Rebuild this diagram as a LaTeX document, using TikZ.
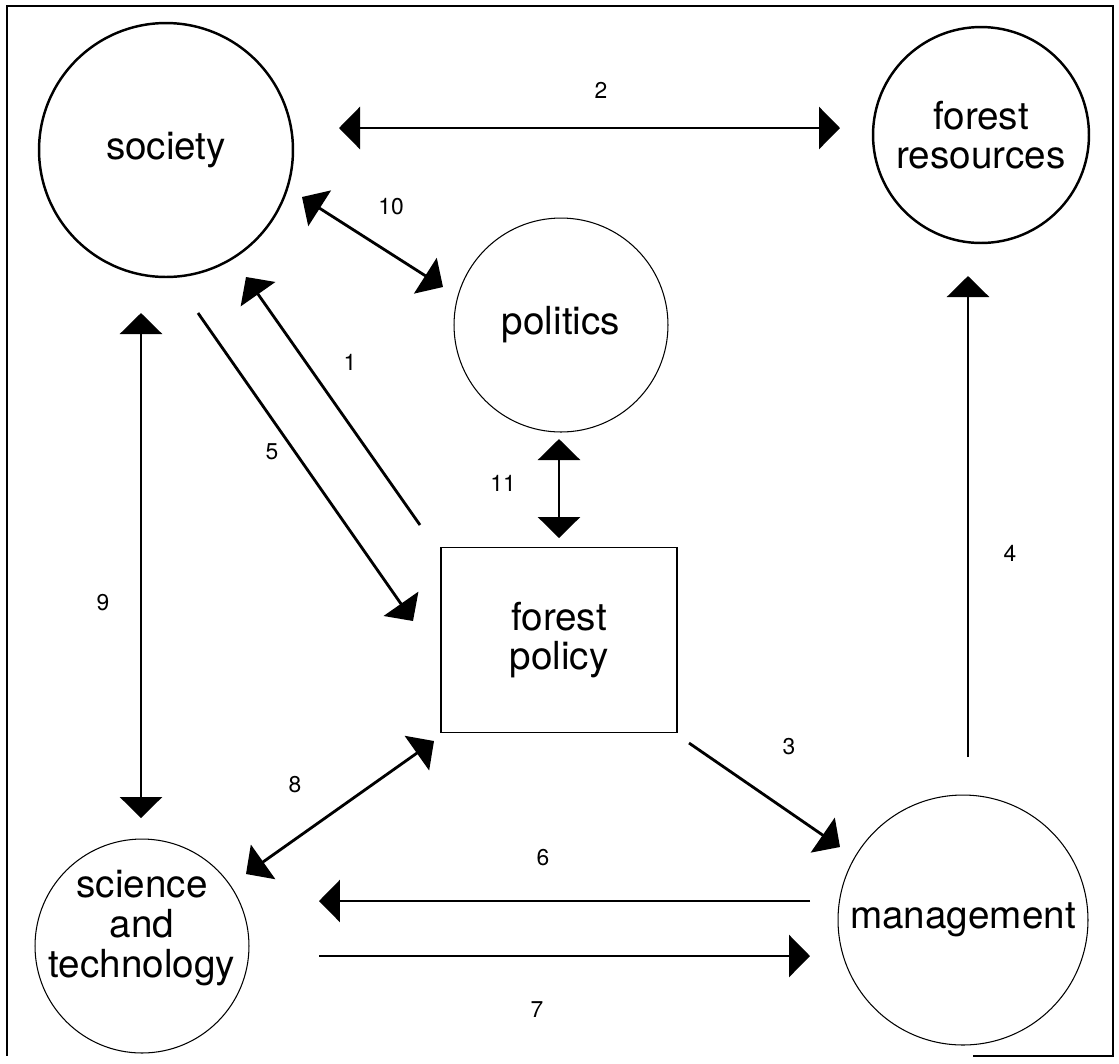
\documentclass[tikz,border=0pt]{standalone}
\usepackage{fontspec}
\setmainfont{TeX Gyre Heros}
\usetikzlibrary{arrows.meta}

\tikzset{
  thickcirc/.style={circle, draw, line width=1.4pt, inner sep=0pt, align=center, font=\fontsize{22}{22.5}\selectfont},
  thincirc/.style={circle, draw, line width=0.6pt, inner sep=0pt, align=center, font=\fontsize{22}{22.5}\selectfont},
  policybox/.style={rectangle, draw, line width=0.7pt, minimum width=4.72cm, minimum height=3.7cm, align=center, font=\fontsize{22}{22.5}\selectfont},
  nodetext/.style={align=center, inner sep=0pt, font=\fontsize{22}{22.5}\selectfont},
  oneway/.style={line width=1.6pt, -{Triangle[length=0.42cm, width=0.84cm]}},
  twoway/.style={line width=1.6pt, {Triangle[length=0.42cm, width=0.84cm]}-{Triangle[length=0.42cm, width=0.84cm]}},
  num/.style={inner sep=0pt, font=\fontsize{13}{13}\selectfont}
}

\begin{document}
\begin{tikzpicture}[x=0.02cm, y=-0.02cm]
  \useasboundingbox (0,0) rectangle (1119,1063);
  \draw[line width=0.6pt] (973,1056) -- (1113,1056) -- (1113,6) -- (7,6) -- (7,1056);

  % Knoten
  \node[thickcirc, minimum size=5.08cm] (society) at (166,150) {society};
  \node[thickcirc, minimum size=4.32cm] (resources) at (981,135) {forest\\resources};
  \node[thincirc, minimum size=4.28cm] (politics) at (561,325) {politics};
  \node[policybox] (policy) at (559,640) {forest\\policy};
  \node[thincirc, minimum size=4.28cm] (science) at (142,946) {};
  \node[nodetext] (sciencetext) at (142,928) {science\\and\\technology};
  \node[thincirc, minimum size=5.0cm] (management) at (963,920) {management};

  % Pfeilenden
  \coordinate (a2l) at (339,128);  \coordinate (a2r) at (840,128);
  \coordinate (a10s) at (302,197); \coordinate (a10p) at (443,287);
  \coordinate (a1b) at (420,525);  \coordinate (a1t) at (246,277);
  \coordinate (a5t) at (198,313);  \coordinate (a5b) at (413,621);
  \coordinate (a9t) at (141,313);  \coordinate (a9b) at (141,818);
  \coordinate (a11t) at (559,439); \coordinate (a11b) at (559,538);
  \coordinate (a8t) at (434,741);  \coordinate (a8b) at (246,874);
  \coordinate (a3t) at (689,743);  \coordinate (a3b) at (840,847);
  \coordinate (a4b) at (968,757);  \coordinate (a4t) at (968,276);
  \coordinate (a6r) at (810,901);  \coordinate (a6l) at (319,901);
  \coordinate (a7l) at (319,956);  \coordinate (a7r) at (810,956);

  % Pfeile
  \draw[twoway] (a2l) -- (a2r);
  \draw[twoway] (a10s) -- (a10p);
  \draw[oneway] (a1b) -- (a1t);
  \draw[oneway] (a5t) -- (a5b);
  \draw[twoway] (a9t) -- (a9b);
  \draw[twoway] (a11t) -- (a11b);
  \draw[twoway] (a8t) -- (a8b);
  \draw[oneway] (a3t) -- (a3b);
  \draw[oneway] (a4b) -- (a4t);
  \draw[oneway] (a6r) -- (a6l);
  \draw[oneway] (a7l) -- (a7r);

  % Nummern
  \node[num] (n1) at (350,362) {1};
  \node[num] (n2) at (601,90) {2};
  \node[num] (n3) at (789,747) {3};
  \node[num] (n4) at (1010,553) {4};
  \node[num] (n5) at (272,452) {5};
  \node[num] (n6) at (543,858) {6};
  \node[num] (n7) at (537,1010) {7};
  \node[num] (n8) at (295,785) {8};
  \node[num] (n9) at (103,603) {9};
  \node[num] (n10) at (391,207) {10};
  \node[num] (n11) at (503,483) {11};
\end{tikzpicture}
\end{document}
